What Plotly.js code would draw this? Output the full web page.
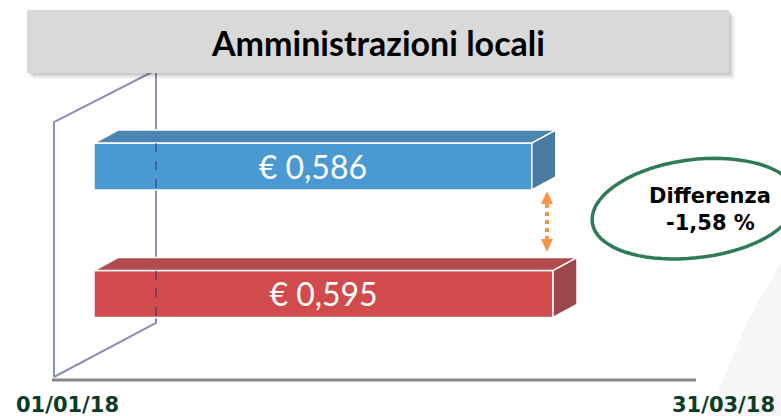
<!DOCTYPE html>
<html>
<head>
<meta charset="utf-8">
<script src="https://cdn.plot.ly/plotly-3.0.1.min.js"></script>
<style>html,body{margin:0;padding:0;background:#fff;}#chart{width:781px;height:416px;}</style>
</head>
<body>
<div id="chart"></div>
<script>
// ---- data ----
const categories = ["31/03/18", "01/01/18"];
const values = [0.586, 0.595];
const valueLabels = values.map(v => "€ " + v.toFixed(3).replace(".", ","));
const axisLabels = ["01/01/18", "31/03/18"];
const diffLines = ["Differenza", "-1,58 %"];
const titleText = "Amministrazioni locali";
const BASE = 0.4;

// ---- styles ----
const frontColors = ["#4b99d3", "#d14b4d"];
const topColors = ["#4b86b3", "#b14b4d"];
const sideColors = ["#4a7aa1", "#9d474b"];
const W = 781, H = 416;
const XR = [0.36006, 0.69187];
const YR = [1.957, -1.306];
const pxX = (XR[1] - XR[0]) / W;
const pxY = (YR[0] - YR[1]) / H;
const barW = 0.367;
const dx = 24 * pxX, dy = -13 * pxY;
const yPos = categories.map((c, i) => i);

const traces = [];
traces.push({
  type: "bar", orientation: "h",
  x: values.map(v => v - BASE), base: BASE, y: yPos, width: barW,
  marker: {color: frontColors, line: {color: "#ffffff", width: 1.5}},
  text: valueLabels, textposition: "inside", insidetextanchor: "middle",
  textangle: 0, constraintext: "none",
  textfont: {family: "Lato, sans-serif", size: 32, color: "#ffffff"},
  hoverinfo: "skip", showlegend: false
});
values.forEach((v, i) => {
  const yt = yPos[i] - barW / 2, yb = yPos[i] + barW / 2;
  traces.push({
    type: "scatter", mode: "lines", fill: "toself", fillcolor: topColors[i],
    x: [BASE, v, v + dx, BASE + dx, BASE],
    y: [yt, yt, yt + dy, yt + dy, yt],
    line: {color: "#ffffff", width: 1.5}, hoverinfo: "skip", showlegend: false
  });
  traces.push({
    type: "scatter", mode: "lines", fill: "toself", fillcolor: sideColors[i],
    x: [v, v + dx, v + dx, v, v],
    y: [yt, yt + dy, yb + dy, yb, yt],
    line: {color: "#ffffff", width: 1.5}, hoverinfo: "skip", showlegend: false
  });
});

// ---- decorations (paper coords from pixels) ----
const P = (x, y) => [x / W, 1 - y / H];
const pathOf = pts => pts.map((p, k) => (k ? "L" : "M") + P(p[0], p[1]).join(",")).join(" ");
const shapes = [];
// watermark
shapes.push({type: "path", xref: "paper", yref: "paper", layer: "below",
  path: pathOf([[708, 416], [748, 320], [781, 262], [781, 416]]) + " Z",
  fillcolor: "#f6f6f6", line: {width: 0}});
// back wall
const wall = [[54, 377], [54, 122], [156, 70], [156, 323], [54, 377]];
shapes.push({type: "path", xref: "paper", yref: "paper", layer: "below",
  path: pathOf(wall), line: {color: "#8c90b2", width: 2}});
// wall line seen through bars
yPos.forEach(yc => {
  shapes.push({type: "line", xref: "paper", yref: "y", layer: "above",
    x0: 156 / W, x1: 156 / W, y0: yc - barW / 2, y1: yc + barW / 2,
    line: {color: "rgba(30,40,90,0.45)", width: 2, dash: "dash"}});
});
// axis line
shapes.push({type: "line", xref: "paper", yref: "paper",
  x0: 52 / W, x1: 696 / W, y0: 1 - 380 / H, y1: 1 - 380 / H,
  line: {color: "#858585", width: 3}});
// title box with soft shadow
[[6, 0.05], [4, 0.07], [2, 0.09]].forEach(s => {
  shapes.push({type: "rect", xref: "paper", yref: "paper",
    x0: (27 + s[0]) / W, x1: (729 + s[0]) / W, y0: 1 - (73 + s[0]) / H, y1: 1 - (10 + s[0]) / H,
    fillcolor: "rgba(0,0,0," + s[1] + ")", line: {width: 0}});
});
shapes.push({type: "rect", xref: "paper", yref: "paper",
  x0: 27 / W, x1: 729 / W, y0: 1 - 73 / H, y1: 1 - 10 / H,
  fillcolor: "#d9d9d9", line: {width: 0}});
// orange double arrow
const orange = "#f79646";
shapes.push({type: "line", xref: "paper", yref: "paper",
  x0: 547 / W, x1: 547 / W, y0: 1 - 204 / H, y1: 1 - 239 / H,
  line: {color: orange, width: 4, dash: "dot"}});
shapes.push({type: "path", xref: "paper", yref: "paper",
  path: pathOf([[547, 191], [553, 204], [541, 204]]) + " Z", fillcolor: orange, line: {width: 0}});
shapes.push({type: "path", xref: "paper", yref: "paper",
  path: pathOf([[547, 252], [553, 239], [541, 239]]) + " Z", fillcolor: orange, line: {width: 0}});
// hand-drawn green ellipse
const ell = [];
const cx = 692, cy = 209, th = -7 * Math.PI / 180;
for (let k = 0; k <= 80; k++) {
  const t = -0.4 + (2 * Math.PI + 0.35) * k / 80;
  const rx = 103 + 3 * Math.sin(t * 1.3), ry = 49 + 1.5 * Math.cos(t);
  const ex = rx * Math.cos(t), ey = ry * Math.sin(t);
  ell.push([cx + ex * Math.cos(th) - ey * Math.sin(th), cy + ex * Math.sin(th) + ey * Math.cos(th)]);
}
shapes.push({type: "path", xref: "paper", yref: "paper",
  path: pathOf(ell), line: {color: "#2f7b57", width: 3.5}});

const ann = (x, y, text, font) => ({xref: "paper", yref: "paper", x: x / W, y: 1 - y / H,
  xanchor: "center", yanchor: "middle", text: "<b>" + text + "</b>", showarrow: false, font: font});
const dateFont = {family: "DejaVu Sans, sans-serif", size: 21, color: "#0d3d26"};
const diffFont = {family: "DejaVu Sans, sans-serif", size: 21, color: "#000000"};
const annotations = [
  ann(378, 43, titleText, {family: "Lato, sans-serif", size: 34, color: "#000000"}),
  ann(67, 405, axisLabels[0], dateFont),
  ann(723, 405, axisLabels[1], dateFont),
  ann(710, 196, diffLines[0], diffFont),
  ann(710, 223, diffLines[1], diffFont)
];

const layout = {
  width: W, height: H, margin: {l: 0, r: 0, t: 0, b: 0},
  paper_bgcolor: "#ffffff", plot_bgcolor: "rgba(0,0,0,0)",
  xaxis: {range: XR, visible: false, fixedrange: true},
  yaxis: {range: YR, visible: false, fixedrange: true},
  showlegend: false, shapes: shapes, annotations: annotations, hovermode: false
};
Plotly.newPlot("chart", traces, layout, {displayModeBar: false, staticPlot: true});
</script>
</body>
</html>
